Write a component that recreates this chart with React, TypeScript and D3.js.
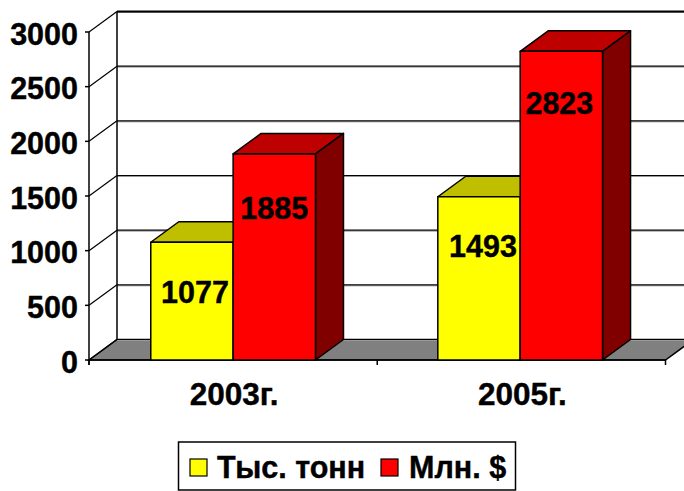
import React from "react";
import * as d3 from "d3";

const categories = ["2003г.", "2005г."];
const seriesNames = ["Тыс. тонн", "Млн. $"];
const tons = [1077, 1493];
const dollars = [1885, 2823];
const yTicks = [0, 500, 1000, 1500, 2000, 2500, 3000];

const W = 684, H = 491;
const FONT = "'Liberation Sans', Arial, sans-serif";
const FONT_SIZE = 30.5;
const DX = 28, DY = -20.5;
const FRONT = ["#ffff00", "#ff0000"];
const TOP = ["#bfbf00", "#bf0000"];
const SIDE = ["#808000", "#800000"];
const LABEL_NUDGE = [[3, 50], [0, 54], [4, 49], [-2, 52]];
const heavy = { stroke: "#000", strokeWidth: 0.4, paintOrder: "stroke" as const };

export default function App() {
  const y = d3.scaleLinear().domain([0, 3000]).range([360, 32]);
  const x0 = d3.scaleBand().domain(categories).range([89, 665.5]);
  const barW = x0.bandwidth() / 3.5;
  const x1 = d3.scaleBand().domain(seriesNames).range([0, barW * 2]);
  const series = [tons, dollars];
  const x0Ticks = [89, ...categories.map((c) => (x0(c) as number) + x0.bandwidth())];
  const barLeft = (ci: number, si: number) =>
    (x0(categories[ci]) as number) + barW * 0.75 + (x1(seriesNames[si]) as number) - ci * 1.2;
  const [x00, xEnd] = [89, 665.5];
  const y0 = y(0), yT = y(3000);
  const poly = (pts: number[][]) => pts.map((p) => p.join(",")).join(" ");

  const bars: React.ReactNode[] = [];
  categories.forEach((_, ci) => {
    series.forEach((vals, si) => {
      const l = barLeft(ci, si), r = l + barW, t = y(vals[ci]);
      bars.push(
        <g key={`${ci}-${si}`} stroke="#000" strokeWidth={1.5} strokeLinejoin="round">
          <polygon points={poly([[l, t], [l + DX, t + DY], [r + DX, t + DY], [r, t]])} fill={TOP[si]} />
          <polygon points={poly([[r, t], [r + DX, t + DY], [r + DX, y0 + DY], [r, y0]])} fill={SIDE[si]} />
          <rect x={l} y={t} width={barW} height={y0 - t} fill={FRONT[si]} />
        </g>
      );
    });
  });

  const labels: React.ReactNode[] = [];
  let n = 0;
  categories.forEach((_, ci) => {
    series.forEach((vals, si) => {
      const nudge = LABEL_NUDGE[n++];
      labels.push(
        <text key={`l${ci}-${si}`} x={barLeft(ci, si) + barW / 2 + nudge[0]} y={y(vals[ci]) + nudge[1]}
          textAnchor="middle" dominantBaseline="central" fontFamily={FONT} fontWeight="bold" fontSize={FONT_SIZE} fill="#000" {...heavy}>
          {vals[ci]}
        </text>
      );
    });
  });

  return (
    <svg width={W} height={H} viewBox={`0 0 ${W} ${H}`} style={{ position: "fixed", left: 0, top: 0, background: "#fff" }}>
      <polygon points={poly([[x00, y0], [x00 + DX, y0 + DY], [xEnd + DX, y0 + DY], [xEnd, y0]])} fill="#808080" stroke="#000" strokeWidth={1.5} />
      {yTicks.map((t) => (
        <g key={t}>
          <line x1={x00 + DX} x2={xEnd + DX} y1={y(t) + DY + 1} y2={y(t) + DY + 1} stroke="#999" strokeWidth={1} />
          <line x1={x00 + DX} x2={xEnd + DX} y1={y(t) + DY} y2={y(t) + DY} stroke="#000" strokeWidth={t === 3000 ? 2 : 1.2} />
          <line x1={x00} x2={x00 + DX} y1={y(t)} y2={y(t) + DY} stroke="#000" strokeWidth={1.2} />
          <line x1={x00 - 4} x2={x00} y1={y(t)} y2={y(t)} stroke="#000" strokeWidth={1.5} />
          <text x={78} y={y(t) + 1.5} textAnchor="end" dominantBaseline="central" fontFamily={FONT} fontWeight="bold" fontSize={FONT_SIZE} fill="#000" {...heavy}>
            {t}
          </text>
        </g>
      ))}
      <line x1={x00 + DX} x2={x00 + DX} y1={yT + DY} y2={y0 + DY} stroke="#000" strokeWidth={1.5} />
      <line x1={x00} x2={x00} y1={yT} y2={y0 + 5} stroke="#000" strokeWidth={1.5} />
      <line x1={x00} x2={xEnd} y1={y0} y2={y0} stroke="#000" strokeWidth={1.5} />
      {x0Ticks.map((t) => (
        <line key={t} x1={t} x2={t} y1={y0} y2={y0 + 5} stroke="#000" strokeWidth={1.5} />
      ))}
      {bars}
      {labels}
      {categories.map((c) => (
        <text key={c} x={(x0(c) as number) + x0.bandwidth() / 2 + 1} y={394} textAnchor="middle" dominantBaseline="central"
          fontFamily={FONT} fontWeight="bold" fontSize={31.5} fill="#000" {...heavy}>
          {c}
        </text>
      ))}
      <rect x={178.5} y={442} width={337} height={48} fill="#fff" stroke="#000" strokeWidth={1.5} />
      <rect x={190} y={459} width={17} height={17} fill={FRONT[0]} stroke="#000" strokeWidth={1.2} />
      <text x={217} y={478} fontFamily={FONT} fontWeight="bold" fontSize={FONT_SIZE} fill="#000" {...heavy}>{seriesNames[0]}</text>
      <rect x={381} y={459} width={17} height={17} fill={FRONT[1]} stroke="#000" strokeWidth={1.2} />
      <text x={409} y={478} fontFamily={FONT} fontWeight="bold" fontSize={FONT_SIZE} fill="#000" {...heavy}>{seriesNames[1]}</text>
    </svg>
  );
}
